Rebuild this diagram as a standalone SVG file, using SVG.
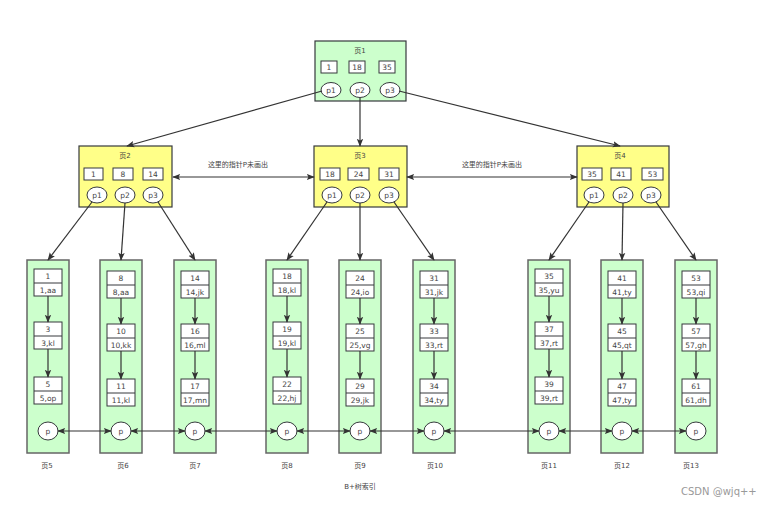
<svg xmlns="http://www.w3.org/2000/svg" width="765" height="506" viewBox="0 0 765 506">
<style>
.bg{fill:#ffffff}
.page{fill:#ffff88;stroke:#36393d;stroke-width:1.2}
.leaf{fill:#ccffcc;stroke:#666666;stroke-width:1.5}
.key{fill:#ffffff;stroke:#36393d;stroke-width:1}
.ptr{fill:#ffffff;stroke:#36393d;stroke-width:1}
.t{font-family:"DejaVu Sans","Noto Sans CJK SC",sans-serif;font-size:7.5px;fill:#444444;text-anchor:middle}
.s{font-family:"DejaVu Sans","Noto Sans CJK SC",sans-serif;font-size:7px;fill:#444444;text-anchor:middle}
.c{stroke:#333333;stroke-width:1.2;fill:none}
.wm{font-family:"DejaVu Sans","Noto Sans",sans-serif;font-size:10px;fill:#999999}
</style>
<defs>
<marker id="ah" viewBox="0 0 10 10" refX="9" refY="5" markerWidth="8" markerHeight="8" markerUnits="userSpaceOnUse" orient="auto-start-reverse">
<path d="M0,1 L10,5 L0,9 L2,5 z" fill="#333333"/>
</marker>
</defs>
<rect class="bg" x="0" y="0" width="765" height="506"/>

<g id="page1">
<rect class="leaf" x="315" y="41" width="91" height="60" style="stroke:#36393d;stroke-width:1.2"/>
<text class="s" x="360" y="53">页1</text>
<rect class="key" x="321" y="61" width="16" height="12"/><text class="t" x="329" y="70">1</text>
<rect class="key" x="349" y="61" width="16" height="12"/><text class="t" x="357" y="70">18</text>
<rect class="key" x="379" y="61" width="16" height="12"/><text class="t" x="387" y="70">35</text>
<ellipse class="ptr" cx="331" cy="90" rx="10" ry="7.5"/><text class="t" x="331" y="93">p1</text>
<ellipse class="ptr" cx="360" cy="90" rx="10" ry="7.5"/><text class="t" x="360" y="93">p2</text>
<ellipse class="ptr" cx="390" cy="90" rx="10" ry="7.5"/><text class="t" x="390" y="93">p3</text>
</g>

<g id="page2">
<rect class="page" x="79" y="146" width="93" height="61"/>
<text class="s" x="125" y="158">页2</text>
<rect class="key" x="84" y="168" width="19" height="12"/><text class="t" x="93.5" y="177">1</text>
<rect class="key" x="113" y="168" width="20" height="12"/><text class="t" x="123" y="177">8</text>
<rect class="key" x="143" y="168" width="20" height="12"/><text class="t" x="153" y="177">14</text>
<ellipse class="ptr" cx="97" cy="195" rx="10" ry="8"/><text class="t" x="97" y="198">p1</text>
<ellipse class="ptr" cx="125" cy="195" rx="10" ry="8"/><text class="t" x="125" y="198">p2</text>
<ellipse class="ptr" cx="153" cy="195" rx="10" ry="8"/><text class="t" x="153" y="198">p3</text>
</g>

<g id="page3">
<rect class="page" x="314" y="146" width="93" height="61"/>
<text class="s" x="360" y="158">页3</text>
<rect class="key" x="320" y="168" width="20" height="12"/><text class="t" x="330" y="177">18</text>
<rect class="key" x="348" y="168" width="21" height="12"/><text class="t" x="358.5" y="177">24</text>
<rect class="key" x="379" y="168" width="20" height="12"/><text class="t" x="389" y="177">31</text>
<ellipse class="ptr" cx="332" cy="195" rx="10" ry="8"/><text class="t" x="332" y="198">p1</text>
<ellipse class="ptr" cx="360" cy="195" rx="10" ry="8"/><text class="t" x="360" y="198">p2</text>
<ellipse class="ptr" cx="389" cy="195" rx="10" ry="8"/><text class="t" x="389" y="198">p3</text>
</g>

<g id="page4">
<rect class="page" x="577" y="146" width="92" height="61"/>
<text class="s" x="620" y="158">页4</text>
<rect class="key" x="582" y="168" width="20" height="12"/><text class="t" x="592" y="177">35</text>
<rect class="key" x="611" y="168" width="20" height="12"/><text class="t" x="621" y="177">41</text>
<rect class="key" x="642" y="168" width="21" height="12"/><text class="t" x="652.5" y="177">53</text>
<ellipse class="ptr" cx="594" cy="195" rx="10" ry="8"/><text class="t" x="594" y="198">p1</text>
<ellipse class="ptr" cx="623" cy="195" rx="10" ry="8"/><text class="t" x="623" y="198">p2</text>
<ellipse class="ptr" cx="651" cy="195" rx="10" ry="8"/><text class="t" x="651" y="198">p3</text>
</g>

<g id="labels">
<text class="s" x="238" y="167">这里的指针P未画出</text>
<text class="s" x="492" y="167">这里的指针P未画出</text>
</g>

<g id="leaf5">
<rect class="leaf" x="27" y="260" width="42" height="193"/>
<rect class="key" x="34" y="269" width="28" height="27"/><line class="key" x1="34" y1="283" x2="62" y2="283"/>
<text class="t" x="48" y="279">1</text><text class="t" x="48" y="293">1,aa</text>
<rect class="key" x="34" y="322" width="28" height="27"/><line class="key" x1="34" y1="336" x2="62" y2="336"/>
<text class="t" x="48" y="332">3</text><text class="t" x="48" y="346">3,kl</text>
<rect class="key" x="34" y="377" width="28" height="27"/><line class="key" x1="34" y1="391" x2="62" y2="391"/>
<text class="t" x="48" y="387">5</text><text class="t" x="48" y="401">5,op</text>
<ellipse class="ptr" cx="48" cy="431" rx="10" ry="9"/><text class="t" x="48" y="434">p</text>
</g>

<g id="leaf6">
<rect class="leaf" x="100" y="260" width="42" height="193"/>
<rect class="key" x="107" y="271" width="28" height="27"/><line class="key" x1="107" y1="285" x2="135" y2="285"/>
<text class="t" x="121" y="281">8</text><text class="t" x="121" y="295">8,aa</text>
<rect class="key" x="107" y="324" width="28" height="27"/><line class="key" x1="107" y1="338" x2="135" y2="338"/>
<text class="t" x="121" y="334">10</text><text class="t" x="121" y="348">10,kk</text>
<rect class="key" x="107" y="379" width="28" height="27"/><line class="key" x1="107" y1="393" x2="135" y2="393"/>
<text class="t" x="121" y="389">11</text><text class="t" x="121" y="403">11,kl</text>
<ellipse class="ptr" cx="121" cy="431" rx="10" ry="9"/><text class="t" x="121" y="434">p</text>
</g>

<g id="leaf7">
<rect class="leaf" x="174" y="260" width="42" height="193"/>
<rect class="key" x="181" y="271" width="28" height="27"/><line class="key" x1="181" y1="285" x2="209" y2="285"/>
<text class="t" x="195" y="281">14</text><text class="t" x="195" y="295">14,jk</text>
<rect class="key" x="181" y="324" width="28" height="27"/><line class="key" x1="181" y1="338" x2="209" y2="338"/>
<text class="t" x="195" y="334">16</text><text class="t" x="195" y="348">16,ml</text>
<rect class="key" x="181" y="379" width="28" height="27"/><line class="key" x1="181" y1="393" x2="209" y2="393"/>
<text class="t" x="195" y="389">17</text><text class="t" x="195" y="403">17,mn</text>
<ellipse class="ptr" cx="195" cy="431" rx="10" ry="9"/><text class="t" x="195" y="434">p</text>
</g>

<g id="leaf8">
<rect class="leaf" x="266" y="260" width="42" height="193"/>
<rect class="key" x="273" y="269" width="28" height="27"/><line class="key" x1="273" y1="283" x2="301" y2="283"/>
<text class="t" x="287" y="279">18</text><text class="t" x="287" y="293">18,kl</text>
<rect class="key" x="273" y="322" width="28" height="27"/><line class="key" x1="273" y1="336" x2="301" y2="336"/>
<text class="t" x="287" y="332">19</text><text class="t" x="287" y="346">19,kl</text>
<rect class="key" x="273" y="377" width="28" height="27"/><line class="key" x1="273" y1="391" x2="301" y2="391"/>
<text class="t" x="287" y="387">22</text><text class="t" x="287" y="401">22,hj</text>
<ellipse class="ptr" cx="287" cy="431" rx="10" ry="9"/><text class="t" x="287" y="434">p</text>
</g>

<g id="leaf9">
<rect class="leaf" x="339" y="260" width="42" height="193"/>
<rect class="key" x="346" y="271" width="28" height="27"/><line class="key" x1="346" y1="285" x2="374" y2="285"/>
<text class="t" x="360" y="281">24</text><text class="t" x="360" y="295">24,io</text>
<rect class="key" x="346" y="324" width="28" height="27"/><line class="key" x1="346" y1="338" x2="374" y2="338"/>
<text class="t" x="360" y="334">25</text><text class="t" x="360" y="348">25,vg</text>
<rect class="key" x="346" y="379" width="28" height="27"/><line class="key" x1="346" y1="393" x2="374" y2="393"/>
<text class="t" x="360" y="389">29</text><text class="t" x="360" y="403">29,jk</text>
<ellipse class="ptr" cx="360" cy="431" rx="10" ry="9"/><text class="t" x="360" y="434">p</text>
</g>

<g id="leaf10">
<rect class="leaf" x="413" y="260" width="42" height="193"/>
<rect class="key" x="420" y="271" width="28" height="27"/><line class="key" x1="420" y1="285" x2="448" y2="285"/>
<text class="t" x="434" y="281">31</text><text class="t" x="434" y="295">31,jk</text>
<rect class="key" x="420" y="324" width="28" height="27"/><line class="key" x1="420" y1="338" x2="448" y2="338"/>
<text class="t" x="434" y="334">33</text><text class="t" x="434" y="348">33,rt</text>
<rect class="key" x="420" y="379" width="28" height="27"/><line class="key" x1="420" y1="393" x2="448" y2="393"/>
<text class="t" x="434" y="389">34</text><text class="t" x="434" y="403">34,ty</text>
<ellipse class="ptr" cx="434" cy="431" rx="10" ry="9"/><text class="t" x="434" y="434">p</text>
</g>

<g id="leaf11">
<rect class="leaf" x="528" y="260" width="42" height="193"/>
<rect class="key" x="535" y="269" width="28" height="27"/><line class="key" x1="535" y1="283" x2="563" y2="283"/>
<text class="t" x="549" y="279">35</text><text class="t" x="549" y="293">35,yu</text>
<rect class="key" x="535" y="322" width="28" height="27"/><line class="key" x1="535" y1="336" x2="563" y2="336"/>
<text class="t" x="549" y="332">37</text><text class="t" x="549" y="346">37,rt</text>
<rect class="key" x="535" y="377" width="28" height="27"/><line class="key" x1="535" y1="391" x2="563" y2="391"/>
<text class="t" x="549" y="387">39</text><text class="t" x="549" y="401">39,rt</text>
<ellipse class="ptr" cx="549" cy="431" rx="10" ry="9"/><text class="t" x="549" y="434">p</text>
</g>

<g id="leaf12">
<rect class="leaf" x="601" y="260" width="42" height="193"/>
<rect class="key" x="608" y="271" width="28" height="27"/><line class="key" x1="608" y1="285" x2="636" y2="285"/>
<text class="t" x="622" y="281">41</text><text class="t" x="622" y="295">41,ty</text>
<rect class="key" x="608" y="324" width="28" height="27"/><line class="key" x1="608" y1="338" x2="636" y2="338"/>
<text class="t" x="622" y="334">45</text><text class="t" x="622" y="348">45,qt</text>
<rect class="key" x="608" y="379" width="28" height="27"/><line class="key" x1="608" y1="393" x2="636" y2="393"/>
<text class="t" x="622" y="389">47</text><text class="t" x="622" y="403">47,ty</text>
<ellipse class="ptr" cx="622" cy="431" rx="10" ry="9"/><text class="t" x="622" y="434">p</text>
</g>

<g id="leaf13">
<rect class="leaf" x="675" y="260" width="42" height="193"/>
<rect class="key" x="682" y="271" width="28" height="27"/><line class="key" x1="682" y1="285" x2="710" y2="285"/>
<text class="t" x="696" y="281">53</text><text class="t" x="696" y="295">53,qi</text>
<rect class="key" x="682" y="324" width="28" height="27"/><line class="key" x1="682" y1="338" x2="710" y2="338"/>
<text class="t" x="696" y="334">57</text><text class="t" x="696" y="348">57,gh</text>
<rect class="key" x="682" y="379" width="28" height="27"/><line class="key" x1="682" y1="393" x2="710" y2="393"/>
<text class="t" x="696" y="389">61</text><text class="t" x="696" y="403">61,dh</text>
<ellipse class="ptr" cx="696" cy="431" rx="10" ry="9"/><text class="t" x="696" y="434">p</text>
</g>

<g id="page-labels">
<text class="s" x="47" y="468">页5</text>
<text class="s" x="123" y="468">页6</text>
<text class="s" x="195" y="468">页7</text>
<text class="s" x="287" y="468">页8</text>
<text class="s" x="360" y="468">页9</text>
<text class="s" x="435" y="468">页10</text>
<text class="s" x="549" y="468">页11</text>
<text class="s" x="622" y="468">页12</text>
<text class="s" x="691" y="468">页13</text>
<text class="s" x="360" y="489">B+树索引</text>
<text class="wm" x="681" y="495">CSDN @wjq++</text>
</g>

<g id="connectors">
<line class="c" x1="322" y1="91" x2="127" y2="146" marker-end="url(#ah)"/>
<line class="c" x1="360" y1="98" x2="360" y2="146" marker-end="url(#ah)"/>
<line class="c" x1="399" y1="91" x2="620" y2="146" marker-end="url(#ah)"/>
<line class="c" x1="173" y1="177" x2="314" y2="177" marker-start="url(#ah)" marker-end="url(#ah)"/>
<line class="c" x1="407" y1="177" x2="577" y2="177" marker-start="url(#ah)" marker-end="url(#ah)"/>
<line class="c" x1="92" y1="202" x2="48" y2="260" marker-end="url(#ah)"/>
<line class="c" x1="125" y1="203" x2="121" y2="260" marker-end="url(#ah)"/>
<line class="c" x1="158" y1="202" x2="195" y2="260" marker-end="url(#ah)"/>
<line class="c" x1="327" y1="202" x2="287" y2="260" marker-end="url(#ah)"/>
<line class="c" x1="360" y1="203" x2="360" y2="260" marker-end="url(#ah)"/>
<line class="c" x1="394" y1="202" x2="434" y2="260" marker-end="url(#ah)"/>
<line class="c" x1="589" y1="202" x2="549" y2="260" marker-end="url(#ah)"/>
<line class="c" x1="623" y1="203" x2="622" y2="260" marker-end="url(#ah)"/>
<line class="c" x1="656" y1="202" x2="696" y2="260" marker-end="url(#ah)"/>
<line class="c" x1="48" y1="296" x2="48" y2="322" marker-end="url(#ah)"/>
<line class="c" x1="48" y1="349" x2="48" y2="377" marker-end="url(#ah)"/>
<line class="c" x1="121" y1="298" x2="121" y2="324" marker-end="url(#ah)"/>
<line class="c" x1="121" y1="351" x2="121" y2="379" marker-end="url(#ah)"/>
<line class="c" x1="195" y1="298" x2="195" y2="324" marker-end="url(#ah)"/>
<line class="c" x1="195" y1="351" x2="195" y2="379" marker-end="url(#ah)"/>
<line class="c" x1="287" y1="296" x2="287" y2="322" marker-end="url(#ah)"/>
<line class="c" x1="287" y1="349" x2="287" y2="377" marker-end="url(#ah)"/>
<line class="c" x1="360" y1="298" x2="360" y2="324" marker-end="url(#ah)"/>
<line class="c" x1="360" y1="351" x2="360" y2="379" marker-end="url(#ah)"/>
<line class="c" x1="434" y1="298" x2="434" y2="324" marker-end="url(#ah)"/>
<line class="c" x1="434" y1="351" x2="434" y2="379" marker-end="url(#ah)"/>
<line class="c" x1="549" y1="296" x2="549" y2="322" marker-end="url(#ah)"/>
<line class="c" x1="549" y1="349" x2="549" y2="377" marker-end="url(#ah)"/>
<line class="c" x1="622" y1="298" x2="622" y2="324" marker-end="url(#ah)"/>
<line class="c" x1="622" y1="351" x2="622" y2="379" marker-end="url(#ah)"/>
<line class="c" x1="696" y1="298" x2="696" y2="324" marker-end="url(#ah)"/>
<line class="c" x1="696" y1="351" x2="696" y2="379" marker-end="url(#ah)"/>
<line class="c" x1="58" y1="431" x2="111" y2="431" marker-start="url(#ah)" marker-end="url(#ah)"/>
<line class="c" x1="131" y1="431" x2="185" y2="431" marker-start="url(#ah)" marker-end="url(#ah)"/>
<line class="c" x1="205" y1="431" x2="277" y2="431" marker-start="url(#ah)" marker-end="url(#ah)"/>
<line class="c" x1="297" y1="431" x2="350" y2="431" marker-start="url(#ah)" marker-end="url(#ah)"/>
<line class="c" x1="370" y1="431" x2="424" y2="431" marker-start="url(#ah)" marker-end="url(#ah)"/>
<line class="c" x1="444" y1="431" x2="539" y2="431" marker-start="url(#ah)" marker-end="url(#ah)"/>
<line class="c" x1="559" y1="431" x2="612" y2="431" marker-start="url(#ah)" marker-end="url(#ah)"/>
<line class="c" x1="632" y1="431" x2="686" y2="431" marker-start="url(#ah)" marker-end="url(#ah)"/>
</g>
</svg>
